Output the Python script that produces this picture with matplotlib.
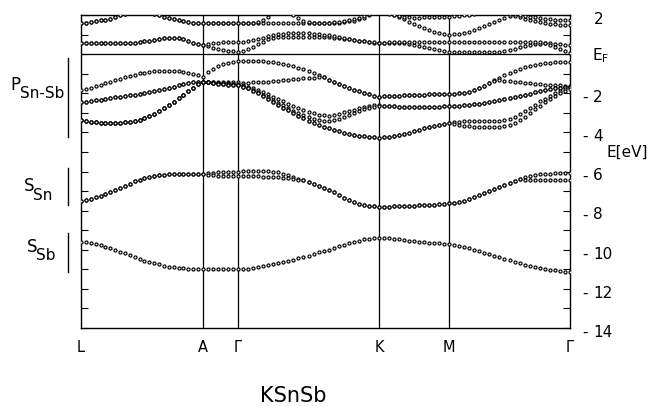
import numpy as np
import matplotlib
matplotlib.use('Agg')
import matplotlib.pyplot as plt
from matplotlib.transforms import blended_transform_factory
from matplotlib.lines import Line2D

plt.rcParams['font.family'] = ['DejaVu Sans']

# ---- k-path ----
kpath_labels = ['L', 'A', 'Γ', 'K', 'M', 'Γ']
kpath_pos = [0, 122, 157, 298, 368, 489]
kpath_steps = [25, 7, 28, 14, 24]   # dots per segment

# ---- band energies (eV), segments L-A | A-G | G-K | K-M | M-G ----
s_sb = ([-9.59,-9.61,-9.66,-9.72,-9.78,-9.85,-9.92,-10.01,-10.10,-10.19,-10.29,-10.39,-10.48,-10.56,-10.63,-10.69,-10.75,-10.81,-10.86,-10.89,-10.92,-10.95,-10.97,-10.98,-10.99,-11.0]
        + [-11.0,-11.0,-11.0,-11.0,-11.0,-11.0,-11.0]
        + [-10.99,-10.97,-10.94,-10.9,-10.85,-10.8,-10.75,-10.69,-10.63,-10.57,-10.51,-10.44,-10.37,-10.3,-10.22,-10.14,-10.06,-9.99,-9.91,-9.83,-9.75,-9.67,-9.6,-9.53,-9.47,-9.43,-9.4,-9.38]
        + [-9.39,-9.41,-9.44,-9.47,-9.5,-9.53,-9.56,-9.59,-9.61,-9.64,-9.66,-9.68,-9.7,-9.72]
        + [-9.75,-9.79,-9.85,-9.92,-10.0,-10.07,-10.15,-10.23,-10.31,-10.39,-10.46,-10.54,-10.62,-10.69,-10.76,-10.82,-10.88,-10.93,-10.97,-11.01,-11.05,-11.09,-11.12,-11.15])

s_sn_a = ([-7.49,-7.45,-7.39,-7.31,-7.23,-7.15,-7.07,-6.97,-6.86,-6.75,-6.63,-6.51,-6.41,-6.33,-6.26,-6.21,-6.18,-6.16,-6.14,-6.13,-6.12,-6.12,-6.12,-6.12,-6.12,-6.12]
          + [-6.08,-6.06,-6.04,-6.03,-6.02,-6.01,-6.0]
          + [-5.97,-5.96,-5.96,-5.96,-5.97,-5.99,-6.01,-6.05,-6.11,-6.18,-6.27,-6.36,-6.45,-6.54,-6.63,-6.73,-6.83,-6.94,-7.07,-7.2,-7.33,-7.45,-7.55,-7.64,-7.7,-7.75,-7.78,-7.8]
          + [-7.8,-7.79,-7.78,-7.77,-7.76,-7.75,-7.74,-7.73,-7.72,-7.71,-7.69,-7.67,-7.65,-7.63]
          + [-7.6,-7.56,-7.49,-7.4,-7.3,-7.2,-7.09,-6.99,-6.88,-6.78,-6.68,-6.57,-6.47,-6.36,-6.3,-6.24,-6.19,-6.15,-6.12,-6.11,-6.1,-6.1,-6.1,-6.1])

s_sn_b = ([-7.49,-7.45,-7.39,-7.31,-7.23,-7.15,-7.07,-6.97,-6.86,-6.75,-6.63,-6.51,-6.41,-6.33,-6.26,-6.21,-6.18,-6.16,-6.14,-6.13,-6.12,-6.12,-6.12,-6.12,-6.12,-6.12]
          + [-6.16,-6.19,-6.21,-6.22,-6.23,-6.24,-6.25]
          + [-6.25,-6.25,-6.25,-6.25,-6.26,-6.26,-6.27,-6.29,-6.32,-6.35,-6.38,-6.41,-6.46,-6.54,-6.63,-6.73,-6.83,-6.94,-7.07,-7.2,-7.33,-7.45,-7.55,-7.64,-7.7,-7.75,-7.78,-7.8]
          + [-7.8,-7.79,-7.78,-7.77,-7.76,-7.75,-7.74,-7.73,-7.72,-7.71,-7.69,-7.67,-7.65,-7.63]
          + [-7.6,-7.56,-7.49,-7.4,-7.3,-7.2,-7.09,-6.99,-6.88,-6.78,-6.68,-6.57,-6.47,-6.4,-6.42,-6.42,-6.41,-6.41,-6.41,-6.41,-6.42,-6.42,-6.43,-6.43])

p_1 = ([-1.83,-1.77,-1.71,-1.64,-1.57,-1.49,-1.41,-1.34,-1.26,-1.19,-1.12,-1.05,-0.99,-0.94,-0.9,-0.87,-0.85,-0.84,-0.84,-0.85,-0.88,-0.92,-0.97,-1.03,-1.09,-1.15]
       + [-0.9,-0.77,-0.63,-0.52,-0.45,-0.39,-0.35]
       + [-0.33,-0.33,-0.34,-0.35,-0.37,-0.39,-0.42,-0.46,-0.5,-0.56,-0.62,-0.69,-0.77,-0.86,-0.96,-1.06,-1.17,-1.3,-1.41,-1.52,-1.63,-1.73,-1.82,-1.9,-1.98,-2.05,-2.12,-2.17]
       + [-2.16,-2.15,-2.14,-2.12,-2.11,-2.1,-2.09,-2.08,-2.07,-2.06,-2.05,-2.04,-2.03,-2.03]
       + [-2.02,-2.0,-1.97,-1.92,-1.85,-1.75,-1.62,-1.48,-1.34,-1.2,-1.07,-0.95,-0.85,-0.76,-0.68,-0.61,-0.55,-0.5,-0.46,-0.43,-0.41,-0.4,-0.4,-0.41])

p_2 = ([-2.46,-2.43,-2.4,-2.36,-2.32,-2.29,-2.25,-2.21,-2.18,-2.14,-2.11,-2.07,-2.03,-1.99,-1.94,-1.89,-1.84,-1.79,-1.73,-1.67,-1.6,-1.54,-1.49,-1.45,-1.42,-1.41]
       + [-1.4,-1.4,-1.41,-1.42,-1.43,-1.44,-1.45]
       + [-1.46,-1.46,-1.45,-1.44,-1.42,-1.41,-1.38,-1.36,-1.33,-1.31,-1.28,-1.26,-1.24,-1.22,-1.2,-1.18,-1.19,-1.3,-1.41,-1.52,-1.63,-1.73,-1.82,-1.9,-1.98,-2.05,-2.12,-2.17]
       + [-2.16,-2.15,-2.14,-2.12,-2.11,-2.1,-2.09,-2.08,-2.07,-2.06,-2.05,-2.04,-2.03,-2.03]
       + [-2.02,-2.0,-1.97,-1.92,-1.85,-1.75,-1.62,-1.48,-1.36,-1.33,-1.35,-1.38,-1.41,-1.44,-1.47,-1.5,-1.52,-1.54,-1.56,-1.57,-1.59,-1.6,-1.61,-1.62])

p_3a = ([-2.46,-2.43,-2.4,-2.36,-2.32,-2.29,-2.25,-2.21,-2.18,-2.14,-2.11,-2.07,-2.03,-1.99,-1.94,-1.89,-1.84,-1.79,-1.73,-1.67,-1.6,-1.54,-1.49,-1.45,-1.42,-1.41]
        + [-1.42,-1.44,-1.46,-1.48,-1.5,-1.51,-1.52]
        + [-1.58,-1.66,-1.75,-1.85,-1.95,-2.06,-2.18,-2.3,-2.42,-2.54,-2.65,-2.76,-2.86,-2.95,-3.03,-3.09,-3.13,-3.14,-3.11,-3.05,-2.98,-2.91,-2.84,-2.77,-2.71,-2.66,-2.62,-2.6]
        + [-2.63,-2.65,-2.67,-2.69,-2.7,-2.71,-2.71,-2.71,-2.71,-2.7,-2.69,-2.68,-2.67,-2.66]
        + [-2.65,-2.64,-2.62,-2.6,-2.57,-2.54,-2.5,-2.46,-2.41,-2.36,-2.31,-2.25,-2.2,-2.14,-2.08,-2.02,-1.96,-1.9,-1.85,-1.8,-1.75,-1.71,-1.68,-1.66])

p_3b = ([-3.38,-3.42,-3.46,-3.49,-3.51,-3.52,-3.53,-3.52,-3.51,-3.49,-3.46,-3.42,-3.36,-3.28,-3.18,-3.06,-2.92,-2.77,-2.6,-2.43,-2.25,-2.07,-1.89,-1.71,-1.54,-1.42]
        + [-1.45,-1.48,-1.5,-1.52,-1.54,-1.55,-1.56]
        + [-1.63,-1.72,-1.83,-1.95,-2.07,-2.2,-2.34,-2.48,-2.62,-2.76,-2.9,-3.02,-3.13,-3.22,-3.3,-3.36,-3.4,-3.41,-3.38,-3.31,-3.22,-3.12,-3.01,-2.91,-2.82,-2.74,-2.68,-2.64]
        + [-2.63,-2.65,-2.67,-2.69,-2.7,-2.71,-2.71,-2.71,-2.71,-2.7,-2.69,-2.68,-2.67,-2.66]
        + [-2.65,-2.64,-2.62,-2.6,-2.57,-2.54,-2.5,-2.46,-2.41,-2.36,-2.31,-2.25,-2.2,-2.14,-2.08,-2.02,-1.96,-1.9,-1.85,-1.8,-1.75,-1.71,-1.68,-1.66])

p_4a = ([-3.38,-3.42,-3.46,-3.49,-3.51,-3.52,-3.53,-3.52,-3.51,-3.49,-3.46,-3.42,-3.36,-3.28,-3.18,-3.06,-2.92,-2.77,-2.6,-2.43,-2.25,-2.07,-1.89,-1.71,-1.54,-1.42]
        + [-1.44,-1.48,-1.51,-1.54,-1.56,-1.58,-1.6]
        + [-1.66,-1.75,-1.86,-1.99,-2.13,-2.28,-2.43,-2.58,-2.73,-2.88,-3.02,-3.16,-3.29,-3.41,-3.52,-3.62,-3.71,-3.79,-3.87,-3.94,-4.01,-4.07,-4.12,-4.17,-4.21,-4.24,-4.26,-4.27]
        + [-4.25,-4.22,-4.18,-4.13,-4.07,-4.01,-3.94,-3.87,-3.8,-3.73,-3.66,-3.6,-3.55,-3.5]
        + [-3.47,-3.45,-3.44,-3.43,-3.42,-3.42,-3.42,-3.42,-3.41,-3.4,-3.37,-3.3,-3.19,-3.05,-2.9,-2.74,-2.58,-2.42,-2.27,-2.13,-2.0,-1.88,-1.78,-1.7])

p_4b = ([-3.38,-3.42,-3.46,-3.49,-3.51,-3.52,-3.53,-3.52,-3.51,-3.49,-3.46,-3.42,-3.36,-3.28,-3.18,-3.06,-2.92,-2.77,-2.6,-2.43,-2.25,-2.07,-1.89,-1.71,-1.54,-1.42]
        + [-1.44,-1.48,-1.51,-1.54,-1.56,-1.58,-1.6]
        + [-1.66,-1.75,-1.86,-1.99,-2.13,-2.28,-2.43,-2.58,-2.73,-2.88,-3.02,-3.16,-3.29,-3.41,-3.52,-3.62,-3.71,-3.79,-3.87,-3.94,-4.01,-4.07,-4.12,-4.17,-4.21,-4.24,-4.26,-4.27]
        + [-4.25,-4.22,-4.18,-4.13,-4.07,-4.01,-3.94,-3.87,-3.8,-3.73,-3.66,-3.6,-3.55,-3.5]
        + [-3.55,-3.6,-3.65,-3.69,-3.72,-3.74,-3.75,-3.75,-3.74,-3.72,-3.68,-3.61,-3.5,-3.36,-3.2,-3.02,-2.83,-2.64,-2.46,-2.28,-2.12,-1.98,-1.86,-1.76])

c_1 = ([0.56,0.56,0.56,0.55,0.55,0.55,0.55,0.55,0.55,0.56,0.57,0.59,0.62,0.65,0.69,0.73,0.77,0.8,0.82,0.82,0.8,0.75,0.67,0.59,0.52,0.47]
       + [0.4,0.33,0.27,0.21,0.17,0.14,0.13]
       + [0.17,0.24,0.35,0.5,0.64,0.76,0.84,0.88,0.89,0.9,0.9,0.9,0.9,0.9,0.9,0.89,0.88,0.86,0.84,0.81,0.78,0.75,0.72,0.68,0.65,0.61,0.58,0.55]
       + [0.56,0.57,0.58,0.58,0.57,0.54,0.49,0.43,0.37,0.31,0.25,0.2,0.16,0.13]
       + [0.11,0.1,0.09,0.09,0.09,0.09,0.09,0.1,0.11,0.13,0.17,0.22,0.28,0.34,0.4,0.45,0.5,0.53,0.55,0.55,0.53,0.51,0.49,0.47])

c_2 = ([0.56,0.56,0.56,0.55,0.55,0.55,0.55,0.55,0.55,0.56,0.57,0.59,0.62,0.65,0.69,0.73,0.77,0.8,0.82,0.82,0.8,0.75,0.67,0.59,0.52,0.47]
       + [0.52,0.56,0.59,0.61,0.62,0.63,0.63]
       + [0.64,0.66,0.7,0.76,0.84,0.92,0.99,1.03,1.05,1.06,1.06,1.06,1.06,1.06,1.05,1.03,1.0,0.96,0.91,0.85,0.8,0.76,0.72,0.68,0.65,0.62,0.6,0.58]
       + [0.59,0.6,0.6,0.61,0.61,0.61,0.61,0.61,0.61,0.61,0.61,0.61,0.61,0.61]
       + [0.61,0.61,0.61,0.61,0.61,0.61,0.61,0.61,0.61,0.61,0.61,0.61,0.62,0.62,0.62,0.62,0.62,0.61,0.58,0.48,0.35,0.24,0.14,0.05])

c_3 = ([1.57,1.6,1.64,1.68,1.72,1.76,1.82,1.9,1.98,2.06,2.12,2.16,2.17,2.15,2.11,2.05,1.99,1.92,1.86,1.8,1.73,1.67,1.63,1.6,1.59,1.58]
       + [1.58,1.58,1.58,1.58,1.58,1.58,1.58]
       + [1.58,1.58,1.58,1.58,1.58,1.58,1.58,1.58,1.58,1.58,1.58,1.58,1.58,1.58,1.58,1.58,1.58,1.58,1.59,1.6,1.63,1.67,1.71,1.77,1.86,1.98,2.1,2.2]
       + [2.15,2.08,1.99,1.89,1.78,1.66,1.55,1.44,1.34,1.24,1.15,1.07,1.02,1.0]
       + [1.01,1.04,1.08,1.14,1.22,1.32,1.43,1.55,1.66,1.76,1.86,1.93,1.95,1.9,1.82,1.75,1.69,1.63,1.59,1.56,1.53,1.51,1.49,1.48])

c_4 = ([1.57,1.6,1.64,1.68,1.72,1.76,1.82,1.9,1.98,2.06,2.12,2.16,2.17,2.15,2.11,2.05,1.99,1.92,1.86,1.8,1.73,1.67,1.63,1.6,1.59,1.58]
       + [1.6,1.6,1.6,1.6,1.6,1.6,1.6]
       + [1.6,1.6,1.61,1.64,1.75,1.92,2.1,2.2,2.22,2.15,2.02,1.85,1.7,1.62,1.6,1.6,1.6,1.61,1.63,1.66,1.7,1.75,1.8,1.87,1.95,2.05,2.12,2.15]
       + [2.1,2.04,1.98,1.93,1.9,1.88,1.87,1.87,1.88,1.89,1.9,1.91,1.92,1.92]
       + [1.93,1.95,1.98,2.02,2.06,2.1,2.12,2.12,2.11,2.1,2.08,2.06,2.03,2.0,1.96,1.92,1.89,1.86,1.8,1.77,1.75,1.73,1.72,1.72])

bands = [s_sb, s_sn_a, s_sn_b, p_1, p_2, p_3a, p_3b, p_4a, p_4b, c_1, c_2, c_3, c_4]

# axis ticks / labels
energy_ticks = list(range(-14, 3))
right_label_values = [-2, -4, -6, -8, -10, -12, -14]
title = 'KSnSb'

# ---- k sample positions ----
k = [kpath_pos[0]]
for i, n in enumerate(kpath_steps):
    k.extend(np.linspace(kpath_pos[i], kpath_pos[i + 1], n + 1)[1:])
k = np.array(k)

W, H = 653, 407
fig = plt.figure(figsize=(W / 100, H / 100), dpi=100)
L, R, T, B = 81, 570, 15, 328
ax = fig.add_axes([L / W, 1 - B / H, (R - L) / W, (B - T) / H])
ax.set_xlim(kpath_pos[0], kpath_pos[-1])
ax.set_ylim(-14, 2)

for band in bands:
    assert len(band) == len(k)
    ax.plot(k, band, linestyle='none', marker='o', ms=2.2, mfc='white',
            mec='black', mew=0.85, zorder=3)

for x in kpath_pos[1:-1]:
    ax.axvline(x, color='black', lw=0.9, zorder=2)
ax.axhline(0, color='black', lw=0.9, zorder=2)

for s in ax.spines.values():
    s.set_linewidth(1.0)

ax.set_yticks(energy_ticks)
ax.tick_params(axis='y', direction='in', left=True, right=True, length=5,
               width=0.8, labelleft=False, labelright=False)
ax.set_xticks(kpath_pos)
ax.set_xticklabels([])
ax.tick_params(axis='x', length=0)

tr_x = blended_transform_factory(ax.transData, fig.transFigure)
for x, lab in zip(kpath_pos, kpath_labels):
    fig.text(x, 1 - 347 / H, lab, transform=tr_x, ha='center', va='center', fontsize=10.5)

tr_y = blended_transform_factory(fig.transFigure, ax.transData)
fs = 11
for v in right_label_values:
    fig.text(585 / W, v - 0.22, '-', transform=tr_y, ha='center', va='center', fontsize=fs)
    fig.text(593 / W, v - 0.22, str(-v), transform=tr_y, ha='left', va='center', fontsize=fs)
fig.text(594 / W, 1.75, '2', transform=tr_y, ha='left', va='center', fontsize=fs)
fig.text(592 / W, -0.1, r'$\mathregular{E_F}$', transform=tr_y, ha='left', va='center', fontsize=fs)
fig.text(607 / W, -5.0, 'E[eV]', transform=tr_y, ha='left', va='center', fontsize=fs)

# left labels
fig.text(10 / W, 1 - 85 / H, 'P', ha='left', va='center', fontsize=12)
fig.text(20 / W, 1 - 94 / H, 'Sn-Sb', ha='left', va='center', fontsize=11)
fig.text(24 / W, 1 - 186 / H, 'S', ha='left', va='center', fontsize=12)
fig.text(33 / W, 1 - 196 / H, 'Sn', ha='left', va='center', fontsize=11)
fig.text(27 / W, 1 - 247 / H, 'S', ha='left', va='center', fontsize=12)
fig.text(36 / W, 1 - 256 / H, 'Sb', ha='left', va='center', fontsize=11)
for y0, y1 in [(58, 137), (168, 205), (233, 272)]:
    fig.add_artist(Line2D([68 / W, 68 / W], [1 - y0 / H, 1 - y1 / H], color='black', lw=1.0))

fig.text(293 / W, 1 - 396 / H, title, ha='center', va='center', fontsize=15)

fig.savefig('out.png', dpi=100)
